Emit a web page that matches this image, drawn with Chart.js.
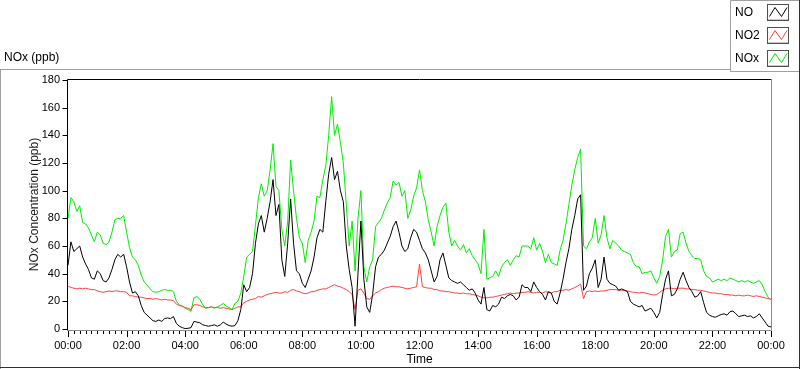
<!DOCTYPE html>
<html lang="en">
<head>
<meta charset="UTF-8">
<title>NOx (ppb)</title>
<style>
    * { margin: 0; padding: 0; box-sizing: border-box; }
    body { background: #fff; width: 800px; height: 369px; overflow: hidden; }
</style>
</head>
<body>
<canvas id="noxChart" width="800" height="369"></canvas>

<script src="https://cdn.jsdelivr.net/npm/chart.js"></script>
<script>
    // one reading every 6 minutes, 00:00 -> 24:00
    const stepMinutes = 6;

    const noValues = [
        46, 63, 56, 58, 60, 52, 47, 43, 37, 36,
        42, 40, 35, 34, 37, 43, 50, 54, 52, 54,
        45, 34, 26, 27, 24, 17, 12, 10, 8, 6,
        5.5, 6.5, 5.5, 7.5, 8, 7.5, 9, 4, 2, 1,
        0.3, 0.5, 1, 5.5, 5, 4.5, 3, 2.5, 2, 2.5,
        3, 2, 3, 5, 3.5, 2.5, 2, 2.5, 6, 14,
        32, 27, 30, 40, 62, 76, 82, 70, 80, 92,
        108, 82, 90, 50, 38, 62, 94, 62, 42, 40,
        33, 30, 36, 42, 52, 66, 72, 70, 92, 112,
        124, 108, 114, 100, 92, 60, 43, 30, 2, 40,
        78, 36, 16, 12, 25, 45, 52, 54, 57, 62,
        67, 74, 78, 70, 60, 56, 58, 66, 72, 70,
        64, 58, 55, 50, 42, 34, 38, 50, 55, 46,
        37, 35, 34, 33, 34, 32, 30, 28, 29, 26,
        21, 18, 30, 14, 13, 17, 16, 18, 23, 22,
        24, 25, 24, 21, 23, 32, 30, 30, 27, 34,
        30, 27, 25, 21, 27, 26, 20, 18, 26, 36,
        48, 58, 72, 82, 94, 97, 28, 31, 40, 44,
        50, 30, 36, 52, 36, 33, 32, 31, 28, 29,
        28, 27, 20, 18, 17, 16, 17, 13, 14, 15,
        12, 8, 12, 25, 36, 42, 24, 25, 29, 36,
        41, 35, 30, 27, 23, 24, 27, 19, 12, 10,
        9, 8.5, 9.5, 10.5, 11, 10, 12.5, 13, 11, 9,
        9.5, 10, 9, 9.5, 8, 9, 11, 8, 5, 2,
        1.5
    ];

    const no2Values = [
        31, 30, 29.5, 29, 29.5, 29, 29.5, 29, 28.5, 28.5,
        27.5, 27, 26.5, 27, 27.5, 27, 27.5, 27.5, 27, 27,
        26.5, 24, 24, 23.5, 23, 23, 22.5, 22, 22, 21.5,
        22, 21.5, 21, 21.5, 21, 21, 20.5, 18, 17, 16.5,
        15.5, 15, 14, 17.5, 17.5, 17, 16, 15.5, 15.5, 16,
        15.5, 15.5, 15, 15.5, 15, 14.5, 14, 15, 16, 16,
        19, 20, 21, 21.5, 22, 23.5, 23, 24, 25, 25.5,
        26, 26.5, 26, 26, 27, 26.5, 28, 28.5, 27.5, 27,
        26, 25.5, 26, 27, 27, 28, 28.5, 29, 29, 30,
        31, 32, 31, 30.5, 29.5, 28.5, 27, 25, 14, 28,
        29, 26, 22, 21.5, 24, 26, 27, 28.5, 29.5, 30,
        30.5, 31, 30.5, 30.5, 30, 29.5, 29, 29.5, 30, 30.5,
        47, 30.5, 30, 29.5, 29.5, 28.5, 28.5, 27.5, 27.5, 27,
        27, 26.5, 26, 26, 25.5, 26, 25.5, 25.5, 25, 24.5,
        24, 23, 22.5, 22.5, 23, 23, 23.5, 24, 24.5, 25,
        25.5, 26, 25.5, 26, 26, 26.5, 26.5, 27, 26.5, 26,
        26.5, 26.5, 26, 27, 26.5, 26, 27, 27, 28, 28,
        28.5, 28, 29, 30, 31, 32.5, 22, 27, 27.5, 27,
        27.5, 27, 27.5, 27.5, 28, 28.5, 28.5, 28.5, 28, 28,
        28, 27.5, 27, 26.5, 26.5, 26, 26.5, 26, 25.5, 25,
        24.5, 25, 26.5, 28, 29, 29.5, 29.5, 29, 29.5, 29.5,
        29.5, 29, 29, 28.5, 28.5, 28, 28, 27.5, 27, 26.5,
        26, 26, 25.5, 25.5, 25, 25, 24.5, 24.5, 24, 24.5,
        24, 24, 24.5, 24, 23.5, 24, 23.5, 23, 22.5, 22,
        21.5
    ];

    const noxValues = [
        80, 95, 92, 85, 89, 77, 76, 73, 68, 63,
        70, 68, 62, 61, 63, 70, 79, 80, 80, 82,
        70, 59, 52, 50, 46, 39, 34, 32, 29, 27,
        26.5, 27, 28, 28.5, 28, 28, 27, 20, 17.5, 16.5,
        15, 14, 13, 22.5, 23.5, 21.5, 17.5, 15, 15.5, 16,
        15, 16, 17, 18.5, 16.5, 15.5, 14, 18.5, 20, 26,
        38, 52, 54, 56, 75, 95, 105, 96, 100, 115,
        134, 103, 100, 72, 60, 78, 122, 100, 80, 66,
        62, 48, 64, 70, 78, 96, 95, 108, 118, 140,
        168, 140, 148, 135, 120, 90, 60, 78, 42, 80,
        100, 45, 34, 45, 50, 74, 77, 80, 86, 91,
        95, 107, 104, 106, 96, 100, 80, 86, 96, 102,
        115, 100, 92, 79, 70, 60, 74, 82, 88, 91,
        70, 60, 64, 60, 57, 61, 55, 58, 53, 50,
        47, 40, 72, 36, 37, 38, 42, 38, 45, 48,
        50, 46, 50, 53, 52, 60, 60, 60, 58, 66,
        57, 62, 56, 48, 54, 48, 47, 46, 57, 64,
        76, 90, 104, 115, 124, 130, 60, 58, 63, 66,
        80, 62, 68, 82, 66, 58, 64, 62, 60, 57,
        56, 55, 54, 48, 45, 45, 40, 41, 41, 42,
        37, 33, 38, 50, 67, 72, 52, 56, 57, 69,
        70, 62, 56, 53, 51, 51, 50, 42, 38, 37,
        34, 35, 36, 35, 36, 35, 37, 36, 35, 34,
        35, 34, 35, 34, 33, 34, 35, 32, 27, 23,
        21
    ];

    const seriesNames = ['NO', 'NO2', 'NOx'];
    const seriesColors = ['#000000', '#ff4040', '#00ee00'];

    const yTicks = [0, 20, 40, 60, 80, 100, 120, 140, 160, 180];
    const xTickLabels = ['00:00', '02:00', '04:00', '06:00', '08:00', '10:00', '12:00',
                         '14:00', '16:00', '18:00', '20:00', '22:00', '00:00'];
    const xMajorMinutes = 120;
    const xMinorMinutes = 12;

    const FONT = '"Liberation Sans", Arial, sans-serif';

    function toPoints(values) {
        return values.map((v, i) => ({ x: i * stepMinutes, y: v }));
    }

    // frame, tick marks, titles and legend in LabVIEW style
    const decorations = {
        id: 'decorations',
        beforeDraw(chart) {
            const c = chart.ctx;
            c.save();
            c.fillStyle = '#ffffff';
            c.fillRect(0, 0, chart.width, chart.height);
            c.restore();
        },
        afterDraw(chart) {
            const c = chart.ctx;
            const area = chart.chartArea;
            const xs = chart.scales.x;
            const ys = chart.scales.y;
            c.save();
            c.lineWidth = 1;

            // outer panel
            c.strokeStyle = '#a0a0a0';
            c.beginPath();
            c.moveTo(0, 69.5); c.lineTo(730, 69.5);
            c.moveTo(0.5, 69); c.lineTo(0.5, 369);
            c.stroke();
            c.strokeStyle = '#303030';
            c.beginPath();
            c.moveTo(0, 367.5); c.lineTo(800, 367.5);
            c.moveTo(799.5, 69); c.lineTo(799.5, 369);
            c.stroke();

            // plot frame
            const L = Math.round(area.left) - 0.5, R = Math.round(area.right) + 0.5;
            const T = Math.round(area.top) - 0.5, B = Math.round(area.bottom) + 1.5;
            c.strokeStyle = '#000000';
            c.beginPath();
            c.moveTo(L, B); c.lineTo(L, T); c.lineTo(R, T);
            c.stroke();
            c.strokeStyle = '#8c8c8c';
            c.beginPath();
            c.moveTo(L, B); c.lineTo(R, B); c.lineTo(R, T);
            c.stroke();

            // y ticks
            c.strokeStyle = '#000000';
            c.beginPath();
            yTicks.forEach(v => {
                const py = Math.round(ys.getPixelForValue(v)) + 0.5;
                c.moveTo(L - 5, py); c.lineTo(L, py);
            });
            c.stroke();

            // x ticks, major and minor
            c.beginPath();
            for (let m = 0; m <= 1440; m += xMinorMinutes) {
                const px = Math.round(xs.getPixelForValue(m)) + 0.5;
                const len = (m % xMajorMinutes === 0) ? 6 : 3;
                c.moveTo(px, B + 0.5); c.lineTo(px, B + 0.5 + len);
            }
            c.stroke();

            // titles
            c.fillStyle = '#000000';
            c.font = '12px ' + FONT;
            c.textAlign = 'left';
            c.textBaseline = 'alphabetic';
            c.fillText('NOx (ppb)', 4, 61);

            c.textAlign = 'center';
            c.textBaseline = 'middle';
            c.fillText('Time', (area.left + area.right) / 2, 360);

            c.save();
            c.translate(35, (area.top + area.bottom) / 2);
            c.rotate(-Math.PI / 2);
            c.fillStyle = '#1a1a1a';
            c.fillText('NOx Concentration (ppb)', 0, 0);
            c.restore();

            // legend box
            c.fillStyle = '#ffffff';
            c.fillRect(730, 0, 70, 72);
            c.strokeStyle = '#a0a0a0';
            c.beginPath();
            c.moveTo(730.5, 72); c.lineTo(730.5, 0.5); c.lineTo(800, 0.5);
            c.moveTo(730, 71.5); c.lineTo(800, 71.5);
            c.stroke();
            c.strokeStyle = '#303030';
            c.beginPath();
            c.moveTo(799.5, 0); c.lineTo(799.5, 72);
            c.stroke();

            const rows = [12, 35, 58];
            seriesNames.forEach((name, i) => {
                const cy = rows[i];
                c.fillStyle = '#000000';
                c.textAlign = 'left';
                c.textBaseline = 'middle';
                c.fillText(name, 735, cy + 1);
                c.strokeStyle = '#505050';
                c.strokeRect(767.5, cy - 7.5, 21, 16);
                c.strokeStyle = '#c8c8c8';
                c.beginPath();
                c.moveTo(768, cy + 7.5); c.lineTo(788, cy + 7.5);
                c.stroke();
                c.strokeStyle = seriesColors[i];
                c.beginPath();
                c.moveTo(769.5, cy + 4.5);
                c.lineTo(775, cy - 4.5);
                c.lineTo(781.5, cy + 4.5);
                c.lineTo(787, cy - 4.5);
                c.stroke();
            });
            c.restore();
        }
    };

    const ctx = document.getElementById('noxChart').getContext('2d');

    const data = {
        datasets: [noValues, no2Values, noxValues].map((vals, i) => ({
            label: seriesNames[i],
            data: toPoints(vals),
            borderColor: seriesColors[i],
            backgroundColor: seriesColors[i],
            borderWidth: 1,
            pointRadius: 0,
            tension: 0,
            fill: false
        }))
    };

    const options = {
        responsive: false,
        animation: false,
        layout: { padding: { left: 0, top: 80, right: 29, bottom: 0 } },
        plugins: {
            legend: { display: false },
            tooltip: { enabled: false }
        },
        scales: {
            x: {
                type: 'linear',
                min: 0,
                max: 1440,
                afterFit: s => { s.height = 40; },
                afterBuildTicks: s => { s.ticks = xTickLabels.map((_, i) => ({ value: i * xMajorMinutes })); },
                ticks: {
                    autoSkip: false,
                    maxRotation: 0,
                    padding: 4,
                    color: '#000000',
                    font: { family: FONT, size: 11 },
                    callback: (value, index) => xTickLabels[index]
                },
                grid: { display: false, drawTicks: true, tickLength: 6 },
                border: { display: false }
            },
            y: {
                min: 0,
                max: 180,
                afterFit: s => { s.width = 68; },
                afterBuildTicks: s => { s.ticks = yTicks.map(v => ({ value: v })); },
                ticks: {
                    padding: 3,
                    color: '#000000',
                    font: { family: FONT, size: 11 },
                    callback: value => value
                },
                grid: { display: false, drawTicks: true, tickLength: 5 },
                border: { display: false }
            }
        }
    };

    const noxChart = new Chart(ctx, {
        type: 'line',
        data: data,
        options: options,
        plugins: [decorations]
    });
</script>
</body>
</html>
